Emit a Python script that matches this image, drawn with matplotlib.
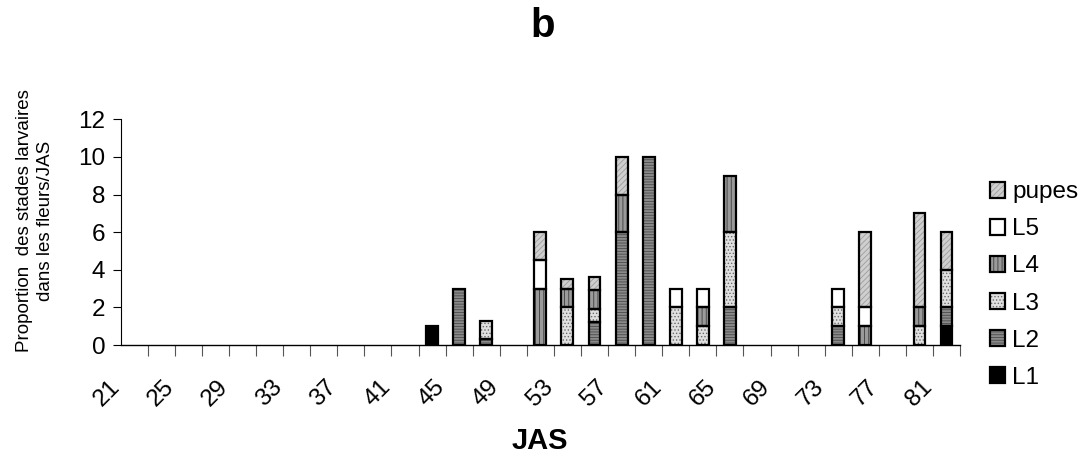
import numpy as np
import matplotlib
matplotlib.use('Agg')
import matplotlib.pyplot as plt
import matplotlib.transforms as mtransforms
from matplotlib.patches import Patch
from matplotlib.legend_handler import HandlerTuple

plt.rcParams['font.family'] = ['Liberation Sans', 'DejaVu Sans']
plt.rcParams['hatch.linewidth'] = 0.6

# JAS categories (every other one labelled)
jas = [21, 23, 25, 27, 29, 31, 33, 35, 37, 39, 41, 43, 45, 47, 49, 51,
       53, 55, 57, 59, 61, 63, 65, 67, 69, 71, 73, 75, 77, 79, 81]

L1 = [0, 0, 0, 0, 0, 0, 0, 0, 0, 0, 0, 1, 0, 0, 0, 0,
      0, 0, 0, 0, 0, 0, 0, 0, 0, 0, 0, 0, 0, 0, 1]
L2 = [0, 0, 0, 0, 0, 0, 0, 0, 0, 0, 0, 0, 3, 0.3, 0, 0,
      0, 1.2, 6, 10, 0, 0, 2, 0, 0, 0, 1, 0, 0, 0, 1]
L3 = [0, 0, 0, 0, 0, 0, 0, 0, 0, 0, 0, 0, 0, 1.0, 0, 0,
      2, 0.7, 0, 0, 2, 1, 4, 0, 0, 0, 1, 0, 0, 1, 2]
L4 = [0, 0, 0, 0, 0, 0, 0, 0, 0, 0, 0, 0, 0, 0, 0, 3,
      1, 1.0, 2, 0, 0, 1, 3, 0, 0, 0, 0, 1, 0, 1, 0]
L5 = [0, 0, 0, 0, 0, 0, 0, 0, 0, 0, 0, 0, 0, 0, 0, 1.5,
      0, 0, 0, 0, 1, 1, 0, 0, 0, 0, 1, 1, 0, 0, 0]
pupes = [0, 0, 0, 0, 0, 0, 0, 0, 0, 0, 0, 0, 0, 0, 0, 1.5,
         0.5, 0.7, 2, 0, 0, 0, 0, 0, 0, 0, 0, 4, 0, 5, 2]

series = [
    ('L1', L1, '#000000', None, '#000000'),
    ('L2', L2, '#8a8a8a', '------', '#4a4a4a'),
    ('L3', L3, '#e0e0e0', '.....', '#6a6a6a'),
    ('L4', L4, '#9a9a9a', '||||', '#3c3c3c'),
    ('L5', L5, '#ffffff', None, '#ffffff'),
    ('pupes', pupes, '#cfcfcf', '//////', '#9c9c9c'),
]

fig = plt.figure(figsize=(10.91, 4.61), dpi=100)
ax = fig.add_axes([0.1106, 0.2516, 0.7694, 0.4896])

x = np.arange(len(jas))
bottom = np.zeros(len(jas))
width = 0.44
handles = []
for name, vals, fc, hatch, hc in series:
    v = np.array(vals, dtype=float)
    m = v > 0
    ax.bar(x[m], v[m], width, bottom=bottom[m], color=fc, hatch=hatch,
           edgecolor=hc, linewidth=0, zorder=2)
    ax.bar(x[m], v[m], width, bottom=bottom[m], fill=False,
           edgecolor='black', linewidth=1.6, zorder=3)
    bottom += v
    handles.append((Patch(facecolor=fc, hatch=hatch, edgecolor=hc, linewidth=0),
                    Patch(fill=False, edgecolor='black', linewidth=1.6)))

ax.set_xlim(-0.5, len(jas) - 0.5)
ax.set_ylim(0, 12)
ax.set_yticks(np.arange(0, 13, 2))
ax.tick_params(axis='y', direction='out', length=6, width=0.8, labelsize=17.5, pad=5)

# tick marks between categories, labels every other category
ax.set_xticks(np.append(x[:-1] + 0.5, len(jas) - 0.5), minor=True)
ax.tick_params(axis='x', which='minor', direction='out', length=8, width=0.8, color='#555555')
ax.set_xticks(x[::2])
ax.set_xticklabels([str(j) for j in jas[::2]], rotation=45, ha='center', va='center',
                   rotation_mode='anchor')
ax.tick_params(axis='x', which='major', length=0, labelsize=17.5, pad=35)
offset = mtransforms.ScaledTranslation(-0.27, 0, fig.dpi_scale_trans)
for lab in ax.get_xticklabels():
    lab.set_transform(lab.get_transform() + offset)

for s in ['top', 'right']:
    ax.spines[s].set_visible(False)
ax.spines['left'].set_linewidth(0.8)
ax.spines['bottom'].set_linewidth(1.0)

fig.text(0.497, 1 - 26 / 461, 'b', fontsize=29, fontweight='bold', ha='center', va='center')
fig.text(0.495, 1 - 441 / 461, 'JAS', fontsize=21, fontweight='bold', ha='center', va='center')
fig.text(0.032, 1 - 221 / 461, 'Proportion  des stades larvaires\ndans les fleurs/JAS',
         fontsize=13.5, rotation=90, ha='center', va='center', linespacing=1.3,
         multialignment='center')

names = [s[0] for s in series]
fig.legend(handles[::-1], names[::-1], loc='center left',
           bbox_to_anchor=(0.9074, 1 - 285 / 461), frameon=False, fontsize=17.5,
           handlelength=0.62, handleheight=0.62, handletextpad=0.3,
           labelspacing=0.62, borderpad=0, borderaxespad=0,
           handler_map={tuple: HandlerTuple(ndivide=1)})

fig.savefig('out.png', dpi=100)
